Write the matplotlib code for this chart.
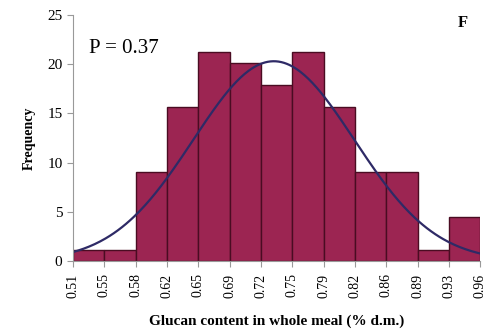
import numpy as np
import matplotlib.pyplot as plt

# bin edge labels and bar heights (frequency per bin)
edge_labels = ["0.51", "0.55", "0.58", "0.62", "0.65", "0.69", "0.72",
               "0.75", "0.79", "0.82", "0.86", "0.89", "0.93", "0.96"]
freq = [1.1, 1.1, 9.0, 15.7, 21.2, 20.1, 17.9, 21.2, 15.7, 9.0, 9.0, 1.1, 4.5]

# fitted normal curve
fit_mean = 0.732
fit_sd = 0.089
fit_peak = 20.3

plt.rcParams['font.family'] = ['Liberation Serif', 'DejaVu Serif']

edges = np.linspace(float(edge_labels[0]), float(edge_labels[-1]), len(edge_labels))
width = edges[1] - edges[0]

fig = plt.figure(figsize=(4.89, 3.31), dpi=100)
ax = fig.add_axes([0.149, 0.2115, 0.833, 0.7432])

ax.bar(edges[:-1], freq, width=width, align='edge',
       color='#9c2552', edgecolor='#4a0c22', linewidth=1.0)

xs = np.linspace(edges[0], edges[-1], 300)
ys = fit_peak * np.exp(-0.5 * ((xs - fit_mean) / fit_sd) ** 2)
ax.plot(xs, ys, color='#2e2a66', linewidth=1.6)

ax.set_xlim(edges[0], edges[-1])
ax.set_ylim(0, 25)
ax.set_xticks(edges)
ax.set_xticklabels(edge_labels, rotation=90, fontsize=10)
ax.set_yticks([0, 5, 10, 15, 20, 25])
ax.tick_params(axis='y', labelsize=11, length=4, color='#999999')
ax.tick_params(axis='x', length=4, color='#999999', pad=5)

for s in ['top', 'right']:
    ax.spines[s].set_visible(False)
for s in ['left', 'bottom']:
    ax.spines[s].set_color('#999999')

ax.set_ylabel('Frequency', fontsize=10, fontweight='bold', labelpad=8)
ax.set_xlabel('Glucan content in whole meal (% d.m.)', fontsize=11,
              fontweight='bold', labelpad=12)

ax.text(0.04, 0.845, 'P = 0.37', transform=ax.transAxes, fontsize=15)
ax.text(0.945, 0.95, 'F', transform=ax.transAxes, fontsize=12,
        fontweight='bold')

fig.savefig('out.png', dpi=100)
